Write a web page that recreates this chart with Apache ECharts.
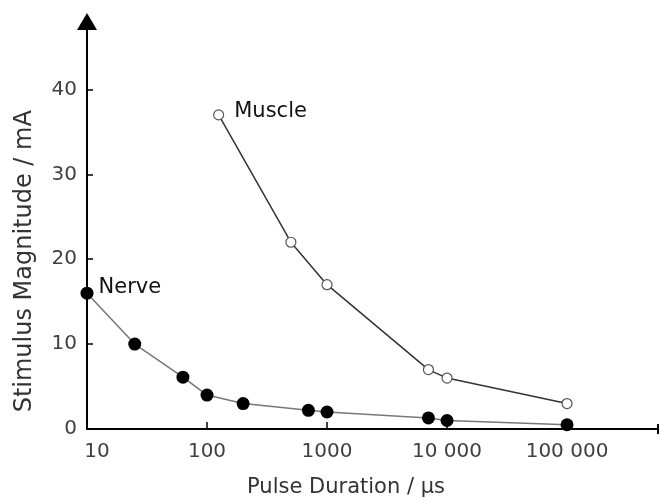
<!DOCTYPE html>
<html>
<head>
<meta charset="utf-8">
<script src="https://cdn.jsdelivr.net/npm/echarts@6/dist/echarts.min.js"></script>
<style>html,body{margin:0;padding:0;background:#fff;}#c{width:660px;height:503px;}</style>
</head>
<body>
<div id="c"></div>
<script>
const nerveDuration = [10, 25, 63, 100, 200, 700, 1000, 7000, 10000, 100000];
const nerveMagnitude = [16, 10, 6.1, 4, 3, 2.2, 2, 1.3, 1, 0.5];
const muscleDuration = [125, 500, 1000, 7000, 10000, 100000];
const muscleMagnitude = [37, 22, 17, 7, 6, 3];
const xTickValues = [10, 100, 1000, 10000, 100000];
const xTickLabels = ['10', '100', '1000', '10 000', '100 000'];
const yTicks = [0, 10, 20, 30, 40];

const FONT = '"DejaVu Sans", sans-serif';
const chart = echarts.init(document.getElementById('c'), null, {renderer: 'canvas'});
const pairs = (xs, ys) => xs.map((x, i) => [x, ys[i]]);

chart.setOption({
  animation: false,
  backgroundColor: '#fff',
  grid: {left: 87, right: 2, top: 21.5, bottom: 72},
  xAxis: {
    type: 'log', logBase: 10, min: 10, max: 573000,
    axisLine: {show: true, lineStyle: {color: '#000', width: 2}, symbol: ['none', 'rect'], symbolSize: [10, 2]},
    axisTick: {show: true, inside: true, length: 7, lineStyle: {color: '#000', width: 1.5}},
    axisLabel: {
      show: true, showMaxLabel: false, margin: 13, fontFamily: FONT, fontSize: 20, color: '#404040',
      formatter: v => {
        const i = xTickValues.findIndex(t => Math.abs(t - v) / t < 1e-6);
        if (i < 0) return '';
        return i === 0 ? '{first|' + xTickLabels[i] + '}' : xTickLabels[i];
      },
      rich: {first: {fontFamily: FONT, fontSize: 20, color: '#404040', padding: [0, 0, 0, 20]}}
    },
    splitLine: {show: false},
    name: 'Pulse Duration / µs', nameLocation: 'middle', nameGap: 48,
    nameTextStyle: {fontFamily: FONT, fontSize: 21, color: '#333', padding: [0, 53, 0, 0]}
  },
  yAxis: {
    type: 'value', min: 0, max: 48, interval: 10,
    axisLine: {show: true, lineStyle: {color: '#000', width: 2}, symbol: ['none', 'triangle'], symbolSize: [20, 17]},
    axisTick: {show: true, inside: true, length: 6, lineStyle: {color: '#000', width: 1.5}},
    axisLabel: {show: true, showMaxLabel: false, margin: 10, fontFamily: FONT, fontSize: 20, color: '#404040',
      formatter: v => yTicks.includes(v) ? String(v) : ''},
    splitLine: {show: false},
    name: 'Stimulus Magnitude / mA', nameLocation: 'middle', nameGap: 50,
    nameTextStyle: {fontFamily: FONT, fontSize: 24, color: '#333', padding: [0, 72, 0, 0]}
  },
  series: [
    {
      name: 'Nerve', type: 'line',
      data: pairs(nerveDuration, nerveMagnitude),
      clip: false,
      lineStyle: {color: '#777', width: 1.5},
      symbol: 'circle', symbolSize: 13,
      itemStyle: {color: '#000', borderColor: '#000', borderWidth: 0},
      label: {show: true, position: 'right', distance: 5, offset: [0, -6], fontFamily: FONT, fontSize: 21, color: '#111',
        formatter: p => p.dataIndex === 0 ? 'Nerve' : ''},
      z: 3
    },
    {
      name: 'Muscle', type: 'line',
      data: pairs(muscleDuration, muscleMagnitude),
      clip: false,
      lineStyle: {color: '#333', width: 1.5},
      symbol: 'circle', symbolSize: 10,
      itemStyle: {color: '#fff', borderColor: '#555', borderWidth: 1.2},
      label: {show: true, position: 'right', distance: 10, offset: [0, -3], fontFamily: FONT, fontSize: 21, color: '#111',
        formatter: p => p.dataIndex === 0 ? 'Muscle' : ''},
      z: 3
    }
  ]
});
</script>
</body>
</html>
